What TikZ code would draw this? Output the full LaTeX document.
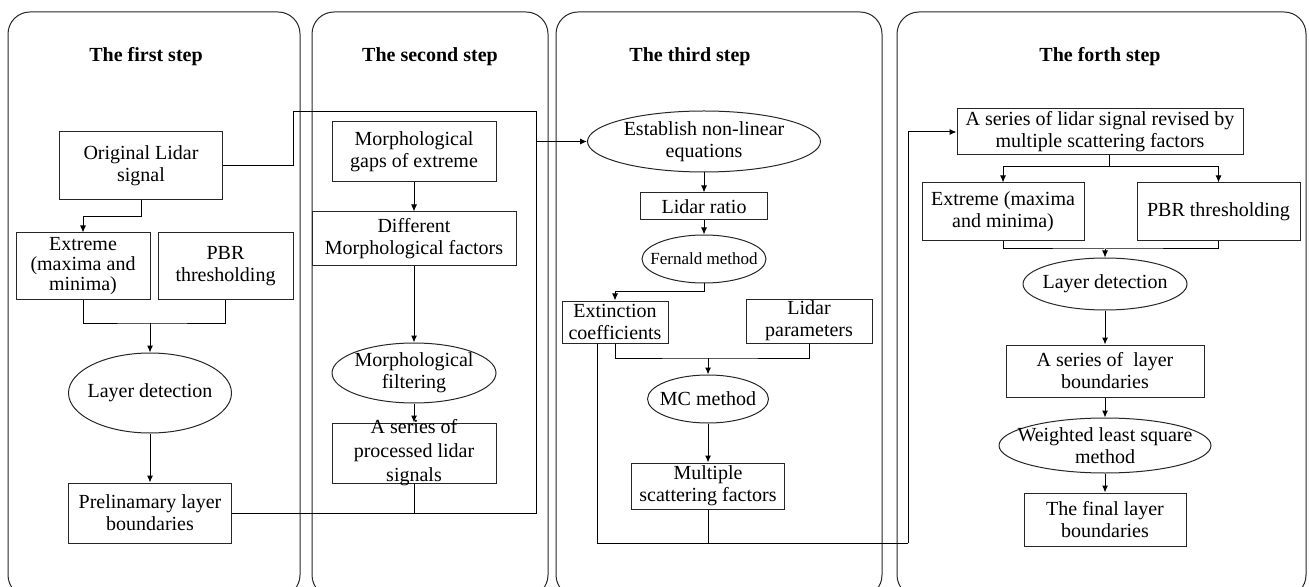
\documentclass[tikz,border=0pt]{standalone}
\usepackage{fontspec}
\setmainfont{Liberation Serif}
\usetikzlibrary{arrows.meta,shapes.geometric}

\begin{document}
\begin{tikzpicture}[x=0.5pt,y=-0.5pt,
panel/.style={draw=black!85, line width=0.5pt, rounded corners=11pt},
title/.style={font=\bfseries\fontsize{10}{12}\selectfont},
box/.style={rectangle, draw=black!85, line width=0.5pt, inner sep=-20pt, align=center, font=\fontsize{10}{11}\selectfont},
oval/.style={ellipse, draw=black!85, line width=0.5pt, inner sep=-20pt, align=center, font=\fontsize{10}{11}\selectfont},
arr/.style={-{Latex[length=3.5pt,width=3pt]}, line width=0.5pt},
line/.style={line width=0.5pt},
]
\clip (0,0) rectangle (1309,587);
\useasboundingbox (0,0) rectangle (1309,587);

% four step panels
\draw[panel] (8,12) rectangle (300,597);
\draw[panel] (312,12) rectangle (548,597);
\draw[panel] (556,12) rectangle (882,597);
\draw[panel] (897,12) rectangle (1306,597);

\node[title](t1) at (146,57) {The first step};
\node[title](t2) at (430,57) {The second step};
\node[title](t3) at (690,57) {The third step};
\node[title](t4) at (1100,57) {The forth step};

% the first step
\node[box, minimum width=81.5pt, minimum height=34pt](orig) at (141,166) {Original Lidar\\signal};
\node[box, minimum width=67pt, minimum height=33pt, font=\fontsize{10}{10.2}\selectfont](ext1) at (83,266) {Extreme\\(maxima and\\minima)};
\node[box, minimum width=67.5pt, minimum height=33pt](pbr1) at (225.5,266) {PBR\\thresholding};
\node[oval, minimum width=81.5pt, minimum height=40pt](det1) at (150,393) {Layer detection};
\node[box, minimum width=81.5pt, minimum height=30pt](pre) at (150,513) {Prelinamary layer\\boundaries};

% the second step
\node[box, minimum width=82pt, minimum height=30pt](gaps) at (414,152) {Morphological\\gaps of extreme};
\node[box, minimum width=102pt, minimum height=27pt](diff) at (414,239) {Different\\Morphological factors};
\node[oval, minimum width=82pt, minimum height=30pt](filt) at (414,373) {Morphological\\filtering};
\node[box, minimum width=82pt, minimum height=30pt, font=\fontsize{10}{12}\selectfont](proc) at (414,453) {A series of\\processed lidar\\signals};

% the third step
\node[oval, minimum width=116.5pt, minimum height=30.5pt](est) at (704,141.5) {Establish non-linear\\equations};
\node[box, minimum width=63.5pt, minimum height=13.5pt](ratio) at (704,206.5) {Lidar ratio};
\node[oval, minimum width=62pt, minimum height=24pt, font=\fontsize{8.5}{10}\selectfont](fern) at (704,259) {Fernald method};
\node[box, minimum width=53pt, minimum height=21pt](extc) at (615,322) {Extinction\\coefficients};
\node[box, minimum width=63pt, minimum height=22pt](lpar) at (809,321) {Lidar\\parameters};
\node[oval, minimum width=60.5pt, minimum height=24pt](mc) at (708,399) {MC method};
\node[box, minimum width=76.5pt, minimum height=23pt](mult) at (708,486) {Multiple\\scattering factors};

% the forth step
\node[box, minimum width=143pt, minimum height=23pt](rev) at (1100,132) {A series of lidar signal revised by\\multiple scattering factors};
\node[box, minimum width=81pt, minimum height=29pt](ext4) at (1003,212) {Extreme (maxima\\and minima)};
\node[box, minimum width=81.5pt, minimum height=29pt](pbr4) at (1218.5,212) {PBR thresholding};
\node[oval, minimum width=82pt, minimum height=26pt](det4) at (1105,284) {Layer detection};
\node[box, minimum width=99pt, minimum height=26pt](ser4) at (1105,371) {A series of~ layer\\boundaries};
\node[oval, minimum width=106pt, minimum height=27.5pt](wls) at (1105,445.5) {Weighted least square\\method};
\node[box, minimum width=81pt, minimum height=26.5pt](fin) at (1105,519.5) {The final layer\\boundaries};

% junctions of the connectors
\coordinate (j1) at (83,217);
\coordinate (j2) at (150,323);
\coordinate (j3) at (615,292);
\coordinate (j4) at (708,358);
\coordinate (j5) at (1105,249);
\coordinate (sp) at (1109,167);
\coordinate (l1) at (536,513);
\coordinate (l2) at (536,112);
\coordinate (l3) at (293,112);
\coordinate (l4) at (597,543);
\coordinate (l5) at (908,543);

% \draw[arr] (node.anchor) -- (node.anchor)
\draw[arr] (orig.south) |- (j1) -- (ext1.north);
\draw[line] (ext1.south) |- (j2) -| (pbr1.south);
\draw[arr] (j2) -- (det1.north);
\draw[arr] (det1.south) -- (pre.north);

\draw[line] (orig.east) -| (l3) -- (l2) -- (l1) -- (pre.east);
\draw[line] (proc.south) -- (proc.south |- l1);
\draw[arr] (l2 |- est.west) -- (est.west);
\draw[arr] (gaps.south) -- (diff.north);
\draw[arr] (diff.south) -- (filt.north);
\draw[arr] (filt.south) -- (proc.north);

\draw[arr] (est.south) -- (ratio.north);
\draw[arr] (ratio.south) -- (fern.north);
\draw[arr] (fern.south) |- (j3) -- (extc.north);
\draw[line] (extc.south) |- (j4) -| (lpar.south);
\draw[arr] (j4) -- (mc.north);
\draw[arr] (mc.south) -- (mult.north);
\draw[line] (extc.south -| l4) -- (l4) -- (l5);
\draw[line] (mult.south) -- (mult.south |- l4);
\draw[arr] (l5) |- (rev.west);

\draw[line] (rev.south -| sp) -- (sp);
\draw[arr] (sp) -| (ext4.north);
\draw[arr] (sp) -| (pbr4.north);
\draw[line] (ext4.south) |- (j5) -| (pbr4.south);
\draw[arr] (j5) -- (det4.north);
\draw[arr] (det4.south) -- (ser4.north);
\draw[arr] (ser4.south) -- (wls.north);
\draw[arr] (wls.south) -- (fin.north);

\end{tikzpicture}
\end{document}
